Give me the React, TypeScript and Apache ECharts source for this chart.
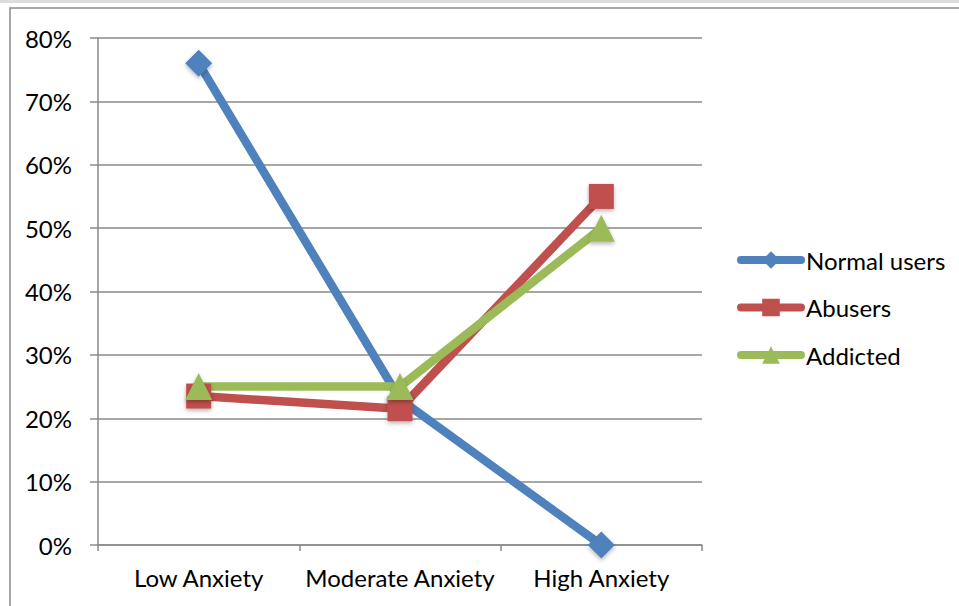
import React, { useEffect, useRef } from "react";
import * as echarts from "echarts";

const categories = ["Low Anxiety", "Moderate Anxiety", "High Anxiety"];
const normalUsers = [76, 23, 0];
const abusers = [23.5, 21.5, 55];
const addicted = [25, 25, 50];
const seriesNames = ["Normal users", "Abusers", "Addicted"];

const FONT = "Lato, 'Open Sans', sans-serif";

export default function App() {
  const ref = useRef<HTMLDivElement>(null);
  useEffect(() => {
    if (!ref.current) return;
    const chart = echarts.init(ref.current, undefined, { renderer: "svg" });
    const mk = (name: string, data: number[], color: string, symbol: string, size: number) => ({
      name,
      type: "line",
      data,
      symbol,
      symbolSize: size,
      lineStyle: { color, width: 8.5, cap: "round" },
      itemStyle: { color, shadowColor: "rgba(0,0,0,0.3)", shadowBlur: 4, shadowOffsetY: 2 },
      emphasis: { disabled: true },
    });
    chart.setOption({
      animation: false,
      textStyle: { fontFamily: FONT },
      graphic: [
        { type: "rect", shape: { x: 0, y: 0, width: 959, height: 3 }, style: { fill: "#dcdcdc" } },
        { type: "rect", shape: { x: 10, y: 8, width: 960, height: 620 }, style: { fill: "none", stroke: "#8a8a8a", lineWidth: 1.5 } },
      ],
      grid: { left: 98, top: 38, right: 257, bottom: 61, containLabel: false },
      legend: {
        orient: "vertical",
        left: 737,
        top: 248,
        padding: 0,
        itemGap: 23.5,
        itemWidth: 60,
        itemHeight: 22,
        data: seriesNames,
        lineStyle: { width: 8, cap: "round" },
        textStyle: { fontSize: 24, color: "#000", fontFamily: FONT },
      },
      xAxis: {
        type: "category",
        data: categories,
        boundaryGap: true,
        axisLine: { lineStyle: { color: "#8a8a8a", width: 1.5 } },
        axisTick: { show: true, length: 6, lineStyle: { color: "#8a8a8a", width: 1.5 } },
        axisLabel: { fontSize: 24, color: "#000", margin: 20, interval: 0, fontFamily: FONT },
      },
      yAxis: {
        type: "value",
        min: 0,
        max: 80,
        interval: 10,
        axisLine: { show: true, lineStyle: { color: "#8a8a8a", width: 1.5 } },
        axisTick: { show: true, length: 8, lineStyle: { color: "#8a8a8a", width: 1.5 } },
        axisLabel: { fontSize: 24, color: "#000", margin: 26, formatter: "{value}%", fontFamily: FONT },
        splitLine: { lineStyle: { color: "#8a8a8a", width: 1.5 } },
      },
      series: [
        mk(seriesNames[0], normalUsers, "#4F81BD", "diamond", 27),
        mk(seriesNames[1], abusers, "#C0504D", "rect", 25),
        mk(seriesNames[2], addicted, "#9BBB59", "triangle", 27),
      ],
    });
    return () => chart.dispose();
  }, []);
  return <div ref={ref} style={{ width: 959, height: 606, position: "absolute", left: 0, top: 0, background: "#fff" }} />;
}
